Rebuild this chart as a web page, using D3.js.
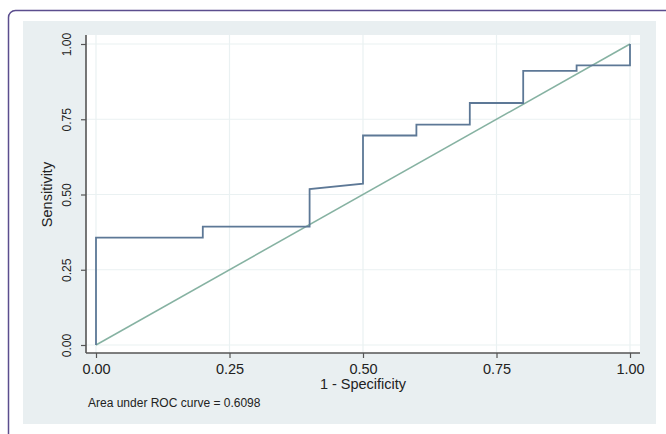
<!DOCTYPE html>
<html>
    <head>
        <style>
            body { margin: 0; background: #fff; }
            svg text { font-family: "Liberation Sans", Arial, sans-serif; fill: #222; }
        </style>
    </head>
    <body>
        <svg class="chart" width="666" height="434"></svg>
        <script src="https://d3js.org/d3.v7.min.js"></script>
        <script>
            // ROC curve points (1 - specificity, sensitivity)
            var fpr  = [0, 0, 0.2, 0.2, 0.4, 0.4, 0.5, 0.5, 0.6, 0.6, 0.7, 0.7, 0.8, 0.8, 0.9, 0.9, 1.0, 1.0];
            var sens = [0, 0.357, 0.357, 0.393, 0.393, 0.518, 0.536, 0.696, 0.696, 0.732, 0.732, 0.804, 0.804, 0.911, 0.911, 0.929, 0.929, 1.0];
            var refX = [0, 1];
            var refY = [0, 1];
            var tickVals = [0, 0.25, 0.5, 0.75, 1];
            var tickLabels = ["0.00", "0.25", "0.50", "0.75", "1.00"];
            var aucText = "Area under ROC curve = 0.6098";

            var svg = d3.select('.chart');

            // outer card border
            svg.append('rect')
                .attr('x', 8.5).attr('y', 10.5)
                .attr('width', 700).attr('height', 460)
                .attr('rx', 7)
                .style('fill', '#fff')
                .style('stroke', '#5b4e8e')
                .style('stroke-width', 1.5);

            // graph region
            svg.append('rect')
                .attr('x', 23).attr('y', 21)
                .attr('width', 633).attr('height', 403)
                .style('fill', '#e9eff1');

            // plot region
            svg.append('rect')
                .attr('x', 86).attr('y', 35)
                .attr('width', 554).attr('height', 318)
                .style('fill', '#fff');

            var x = d3.scaleLinear().domain([0, 1]).range([96, 630]);
            var y = d3.scaleLinear().domain([0, 1]).range([345, 44]);

            var grid = svg.append('g');
            grid.selectAll('.gx').data(tickVals).enter().append('line')
                .attr('x1', function(d) { return x(d); })
                .attr('x2', function(d) { return x(d); })
                .attr('y1', 35).attr('y2', 353)
                .style('stroke', '#eaf1f2').style('stroke-width', 1.2);
            grid.selectAll('.gy').data(tickVals).enter().append('line')
                .attr('y1', function(d) { return y(d); })
                .attr('y2', function(d) { return y(d); })
                .attr('x1', 86).attr('x2', 640)
                .style('stroke', '#eaf1f2').style('stroke-width', 1.2);

            // diagonal reference line
            var line = d3.line()
                .x(function(d) { return x(d[0]); })
                .y(function(d) { return y(d[1]); });

            svg.append('path')
                .datum(d3.zip(refX, refY))
                .attr('d', line)
                .style('fill', 'none')
                .style('stroke', '#86b2a2')
                .style('stroke-width', 1.5);

            svg.append('path')
                .datum(d3.zip(fpr, sens))
                .attr('d', line)
                .style('fill', 'none')
                .style('stroke', '#5d7896')
                .style('stroke-width', 1.8);

            // axes
            var xAxis = d3.axisBottom(x)
                .tickValues(tickVals)
                .tickFormat(function(d, i) { return tickLabels[i]; })
                .tickSize(5)
                .tickSizeOuter(0);
            var xg = svg.append('g')
                .attr('transform', 'translate(0,353)')
                .call(xAxis);
            xg.select('.domain').attr('d', 'M86,0H640');

            var yAxis = d3.axisLeft(y)
                .tickValues(tickVals)
                .tickFormat(function(d, i) { return tickLabels[i]; })
                .tickSize(5)
                .tickSizeOuter(0);
            var yg = svg.append('g')
                .attr('transform', 'translate(86,0)')
                .call(yAxis);
            yg.select('.domain').attr('d', 'M0,35V353');

            svg.selectAll('.domain').style('stroke', '#555').style('stroke-width', 1.6);
            svg.selectAll('.tick line').style('stroke', '#555').style('stroke-width', 1.2);

            xg.selectAll('.tick text')
                .attr('y', 11)
                .style('font-size', '14.5px')
                .style('fill', '#222');

            yg.selectAll('.tick text')
                .attr('x', 0).attr('y', 0)
                .attr('transform', 'translate(-20,0) rotate(-90) scale(0.9,1)')
                .style('text-anchor', 'middle')
                .attr('dy', '0.36em')
                .style('font-size', '13.5px')
                .style('fill', '#222');

            // axis titles
            svg.append('text')
                .attr('x', x(0.5)).attr('y', 389)
                .style('text-anchor', 'middle')
                .style('font-size', '14.5px')
                .text('1 - Specificity');

            svg.append('text')
                .attr('transform', 'translate(52,' + y(0.5) + ') rotate(-90)')
                .style('text-anchor', 'middle')
                .style('font-size', '14.5px')
                .text('Sensitivity');

            svg.append('text')
                .attr('x', 88).attr('y', 407)
                .style('font-size', '12px')
                .text(aucText);
        </script>
    </body>
</html>
